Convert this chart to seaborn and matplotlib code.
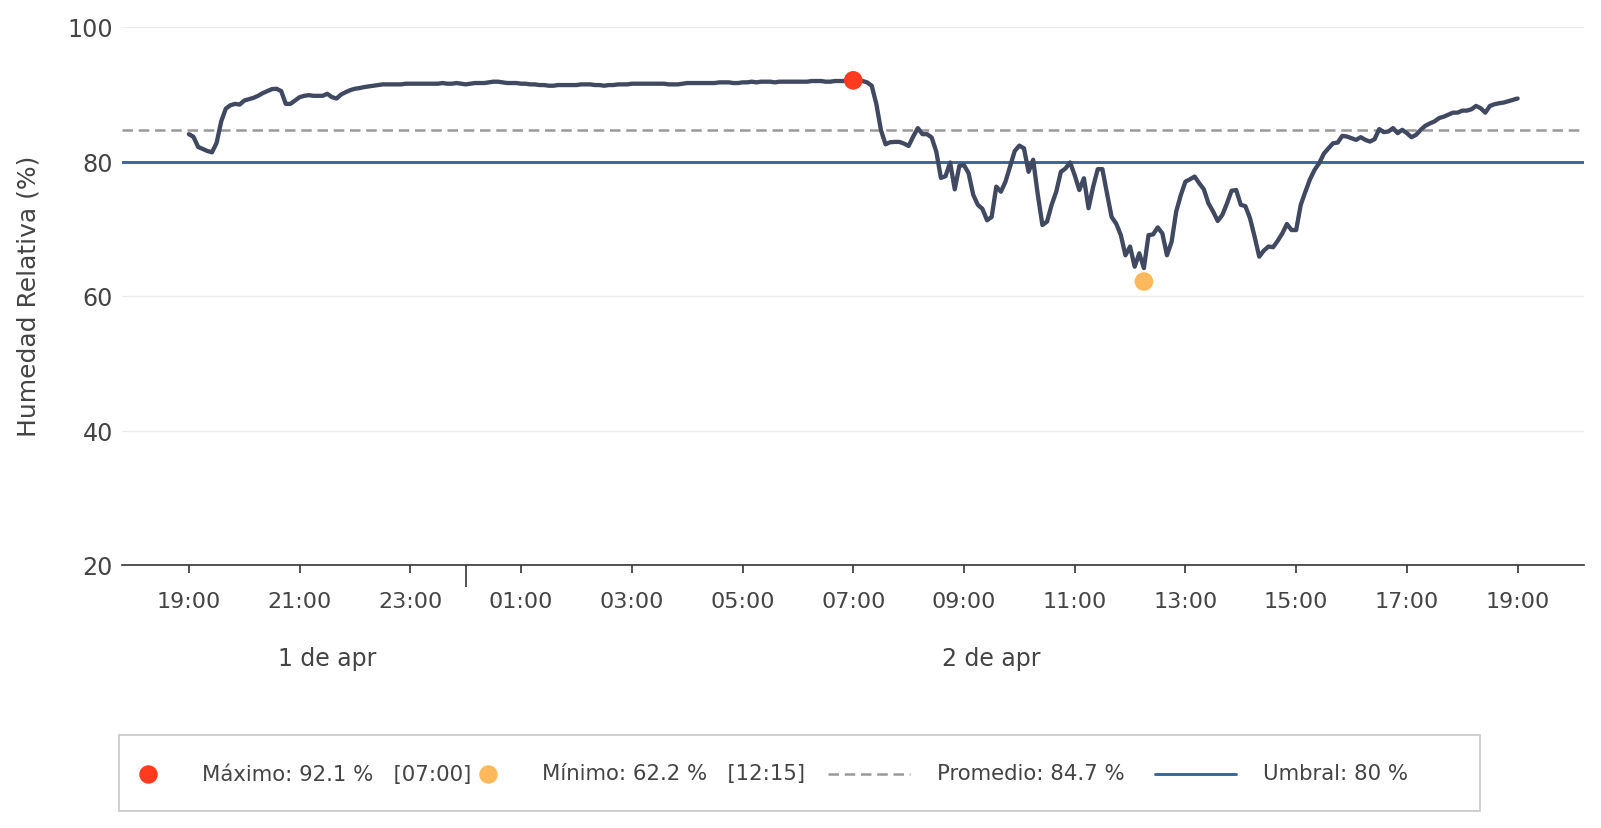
import numpy as np
import pandas as pd
import matplotlib
matplotlib.use("Agg")
import matplotlib.pyplot as plt
import matplotlib.dates as mdates
import matplotlib.transforms as mtransforms
from matplotlib.lines import Line2D
from matplotlib.patches import Rectangle
import seaborn as sns

# ---------------- data ----------------
start_time = "2024-04-01 19:00"
step = "5min"
humidity = [
    84.1, 83.7, 82.2, 81.9, 81.6, 81.4, 82.8, 86.0, 87.9, 88.4,
    88.6, 88.5, 89.1, 89.3, 89.5, 89.8, 90.2, 90.5, 90.8, 90.85,
    90.5, 88.6, 88.6, 89.1, 89.6, 89.8, 89.9, 89.8, 89.8, 89.8,
    90.1, 89.6, 89.4, 90.0, 90.35, 90.65, 90.85, 90.95, 91.1, 91.2,
    91.3, 91.4, 91.5, 91.5, 91.5, 91.5, 91.5, 91.6, 91.6, 91.6,
    91.6, 91.6, 91.6, 91.6, 91.6, 91.7, 91.6, 91.6, 91.7, 91.6,
    91.5, 91.6, 91.7, 91.7, 91.7, 91.8, 91.9, 91.9, 91.8, 91.7,
    91.7, 91.7, 91.6, 91.6, 91.5, 91.5, 91.4, 91.4, 91.3, 91.3,
    91.4, 91.4, 91.4, 91.4, 91.4, 91.5, 91.5, 91.5, 91.4, 91.4,
    91.3, 91.4, 91.4, 91.5, 91.5, 91.5, 91.6, 91.6, 91.6, 91.6,
    91.6, 91.6, 91.6, 91.6, 91.5, 91.5, 91.5, 91.6, 91.7, 91.7,
    91.7, 91.7, 91.7, 91.7, 91.7, 91.8, 91.8, 91.8, 91.7, 91.7,
    91.8, 91.8, 91.9, 91.8, 91.9, 91.9, 91.9, 91.8, 91.9, 91.9,
    91.9, 91.9, 91.9, 91.9, 91.9, 92.0, 92.0, 92.0, 91.9, 91.9,
    92.0, 92.0, 92.0, 92.0, 92.1,
    92.0, 92.0, 91.8, 91.3, 88.6,
    84.7, 82.6, 82.9, 82.95, 82.95, 82.7, 82.35, 83.75, 85.0, 84.1,
    84.1, 83.6, 81.5, 77.6, 77.85, 79.9, 75.9, 79.4, 79.5, 78.3,
    75.1, 73.6, 73.0, 71.3, 71.8, 76.3, 75.55, 77.05, 79.3, 81.6,
    82.4, 82.0, 78.5, 80.3, 75.1, 70.6, 71.1, 73.6, 75.55, 78.5,
    79.0, 79.9, 78.0, 75.8, 77.55, 73.1, 76.3, 78.9, 78.9, 75.3,
    71.8, 70.8, 69.1, 66.1, 67.4, 64.4, 66.4, 64.2, 69.1, 69.2,
    70.25, 69.35, 66.1, 68.1, 72.6, 75.05, 77.05, 77.4, 77.8, 76.8,
    75.9, 73.8, 72.6, 71.2, 72.1, 73.8, 75.7, 75.8, 73.6, 73.4,
    71.6, 68.85, 65.9, 66.8, 67.4, 67.3, 68.25, 69.35, 70.75, 69.85,
    69.85, 73.6, 75.55, 77.4, 78.8, 79.8, 81.2, 82.0, 82.75, 82.85,
    83.85, 83.75, 83.5, 83.25, 83.65, 83.25, 83.0, 83.35, 84.85, 84.4,
    84.5, 85.0, 84.25, 84.75, 84.25, 83.65, 84.0, 84.75, 85.35, 85.7,
    86.0, 86.5, 86.7, 87.0, 87.3, 87.3, 87.6, 87.6, 87.8, 88.3,
    87.95, 87.3, 88.3, 88.55, 88.7, 88.8, 89.0, 89.2, 89.4,
]
max_value = 92.1
max_time = "07:00"
min_value = 62.2
min_time = "12:15"
avg_value = 84.7
threshold = 80
y_ticks = [20, 40, 60, 80, 100]
day_labels = ["1 de apr", "2 de apr"]
y_label = "Humedad Relativa (%)"
legend_labels = [
    f"Máximo: {max_value} %   [{max_time}]",
    f"Mínimo: {min_value} %   [{min_time}]",
    f"Promedio: {avg_value} %",
    f"Umbral: {threshold} %",
]

# ---------------- style ----------------
LINE = "#404960"
RED = "#ff3b1f"
ORANGE = "#ffb95c"
BLUE = "#3a6795"
GREY = "#999999"
TXT = "#444444"
DASH = (0, (4.2, 2.3))

sns.set_style("white")
plt.rcParams["font.family"] = ["DejaVu Sans"]

times = pd.date_range(start_time, periods=len(humidity), freq=step)
df = pd.DataFrame({"time": times, "hr": humidity})
hhmm = times.strftime("%H:%M")
max_ts = times[hhmm == max_time][0]
min_ts = times[hhmm == min_time][0]

fig = plt.figure(figsize=(16.01, 8.284), dpi=100)
ax = fig.add_axes([0.0765, 0.3169, 0.9129, 0.6498])

ax.yaxis.grid(True, color="#ececec", lw=1.0)
ax.set_axisbelow(True)

ax.axhline(threshold, color=BLUE, lw=2.1, zorder=2)
ax.axhline(avg_value, color=GREY, lw=1.8, ls=DASH, zorder=2)

sns.lineplot(data=df, x="time", y="hr", color=LINE, linewidth=3.1, ax=ax, zorder=3)
sns.scatterplot(x=[max_ts], y=[max_value], color=RED, s=180, edgecolor="none",
                ax=ax, zorder=5, clip_on=False)
sns.scatterplot(x=[min_ts], y=[min_value], color=ORANGE, s=180, edgecolor="none",
                ax=ax, zorder=5, clip_on=False)

span = times[-1] - times[0]
ax.set_xlim(times[0] - span * 0.05, times[-1] + span * 0.05)
ax.set_ylim(y_ticks[0], y_ticks[-1])
ax.set_yticks(y_ticks)

ax.xaxis.set_major_locator(mdates.HourLocator(byhour=range(1, 24, 2)))
ax.xaxis.set_major_formatter(mdates.DateFormatter("%H:%M"))
ax.xaxis.set_minor_locator(mdates.HourLocator(byhour=[0]))
ax.tick_params(axis="x", which="both", bottom=True, color="#333333", width=1.2)
ax.tick_params(axis="x", which="major", length=6, pad=12.5, labelsize=16, labelcolor=TXT)
ax.tick_params(axis="x", which="minor", length=16)
ax.tick_params(axis="y", left=False, length=0, pad=7, labelsize=17.2, labelcolor=TXT)

for s in ["left", "top", "right"]:
    ax.spines[s].set_visible(False)
ax.spines["bottom"].set_color("#333333")
ax.spines["bottom"].set_linewidth(1.2)

ax.set_xlabel("")
ax.set_ylabel(y_label, fontsize=18, color=TXT, labelpad=19.5)

# day labels centred on each day's segment
trans = mtransforms.blended_transform_factory(ax.transData, ax.transAxes)
days = pd.Series(times.normalize().unique())
for lab, d in zip(day_labels, days):
    seg0 = max(times[0], d)
    seg1 = min(times[-1], d + pd.Timedelta(days=1))
    mid = seg0 + (seg1 - seg0) / 2
    ax.text(mid, -0.173, lab, transform=trans, ha="center", va="center",
            fontsize=17, color=TXT)

# ---------------- legend box ----------------
fig.add_artist(Rectangle((0.0746, 0.0205), 0.8501, 0.0918, transform=fig.transFigure,
                         facecolor="white", edgecolor="#cccccc", lw=1.3))
ly = 0.0652
fig.add_artist(Line2D([0.0925], [ly], marker="o", ms=13.3, color=RED, mec="none",
                      transform=fig.transFigure))
fig.add_artist(Line2D([0.3049], [ly], marker="o", ms=13.3, color=ORANGE, mec="none",
                      transform=fig.transFigure))
fig.add_artist(Line2D([0.5172, 0.5682], [ly, ly], color=GREY, lw=1.8, ls=DASH,
                      transform=fig.transFigure))
fig.add_artist(Line2D([0.7213, 0.7723], [ly, ly], color=BLUE, lw=2.1,
                      transform=fig.transFigure))
for xpos, lab in zip([0.1263, 0.3387, 0.5854, 0.7889], legend_labels):
    fig.text(xpos, ly, lab, ha="left", va="center", fontsize=15.3, color=TXT)

fig.savefig("out.png", dpi=100)
